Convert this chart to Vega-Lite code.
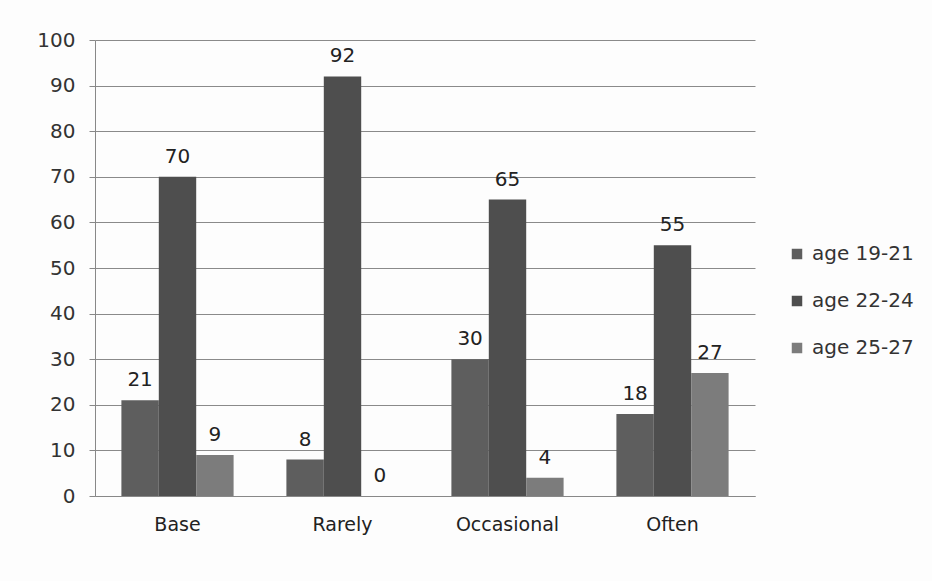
{
  "$schema": "https://vega.github.io/schema/vega-lite/v6.json",
  "width": 660,
  "height": 456,
  "autosize": "none",
  "padding": {"left": 95, "top": 40, "right": 177, "bottom": 85},
  "background": "#fdfdfd",
  "config": {
    "view": {"stroke": null},
    "font": "DejaVu Sans"
  },
  "data": {
    "values": [
      {"category": "Base", "group": "age 19-21", "value": 21},
      {"category": "Base", "group": "age 22-24", "value": 70},
      {"category": "Base", "group": "age 25-27", "value": 9},
      {"category": "Rarely", "group": "age 19-21", "value": 8},
      {"category": "Rarely", "group": "age 22-24", "value": 92},
      {"category": "Rarely", "group": "age 25-27", "value": 0},
      {"category": "Occasional", "group": "age 19-21", "value": 30},
      {"category": "Occasional", "group": "age 22-24", "value": 65},
      {"category": "Occasional", "group": "age 25-27", "value": 4},
      {"category": "Often", "group": "age 19-21", "value": 18},
      {"category": "Often", "group": "age 22-24", "value": 55},
      {"category": "Often", "group": "age 25-27", "value": 27}
    ]
  },
  "encoding": {
    "x": {
      "field": "category",
      "type": "nominal",
      "sort": ["Base", "Rarely", "Occasional", "Often"],
      "scale": {"paddingInner": 0.32, "paddingOuter": 0.16},
      "axis": {
        "title": null,
        "labelAngle": 0,
        "labelFontSize": 19,
        "labelColor": "#222222",
        "labelPadding": 19,
        "ticks": false,
        "domainColor": "#888888",
        "grid": false
      }
    },
    "xOffset": {"field": "group", "type": "nominal"},
    "y": {
      "field": "value",
      "type": "quantitative",
      "scale": {"domain": [0, 100]},
      "axis": {
        "title": null,
        "values": [0, 10, 20, 30, 40, 50, 60, 70, 80, 90, 100],
        "labelFontSize": 20,
        "labelColor": "#333333",
        "labelPadding": 14,
        "tickSize": 6,
        "tickColor": "#888888",
        "domainColor": "#888888",
        "gridColor": "#8a8a8a",
        "gridWidth": 1
      }
    }
  },
  "layer": [
    {
      "mark": {"type": "bar"},
      "encoding": {
        "color": {
          "field": "group",
          "type": "nominal",
          "scale": {"range": ["#5e5e5e", "#4e4e4e", "#7c7c7c"]},
          "legend": {
            "title": null,
            "orient": "none",
            "legendX": 692,
            "legendY": 204,
            "symbolType": "square",
            "symbolSize": 110,
            "symbolStrokeWidth": 0,
            "labelFontSize": 20,
            "labelColor": "#333333",
            "labelOffset": 5,
            "rowPadding": 27
          }
        }
      }
    },
    {
      "mark": {"type": "text", "baseline": "bottom", "dy": -10, "fontSize": 20, "color": "#222222"},
      "encoding": {
        "text": {"field": "value", "type": "quantitative"}
      }
    }
  ]
}
